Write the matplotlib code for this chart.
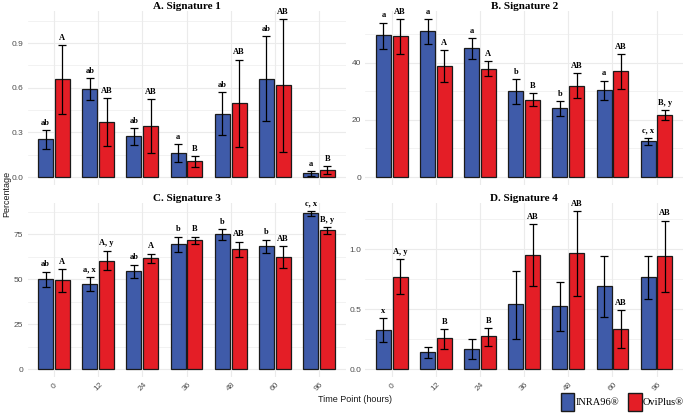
import matplotlib
matplotlib.use('Agg')
import matplotlib.pyplot as plt
from matplotlib.patches import Patch
import matplotlib.transforms as mtransforms
import numpy as np

time_points = ['0', '12', '24', '36', '48', '60', '96']
series_names = ['INRA96®', 'OviPlus®']
series_colors = ['#3F5BA9', '#E41E26']

titles = ['A. Signature 1', 'B. Signature 2', 'C. Signature 3', 'D. Signature 4']

# Signature 1
s1_inra = [0.255, 0.591, 0.278, 0.161, 0.425, 0.658, 0.025]
s1_inra_lo = [0.190, 0.517, 0.219, 0.100, 0.282, 0.374, 0.007]
s1_inra_hi = [0.318, 0.665, 0.329, 0.222, 0.571, 0.947, 0.038]
s1_ovi = [0.658, 0.369, 0.345, 0.105, 0.495, 0.616, 0.049]
s1_ovi_lo = [0.425, 0.206, 0.163, 0.069, 0.199, 0.168, 0.022]
s1_ovi_hi = [0.889, 0.533, 0.524, 0.141, 0.790, 1.063, 0.072]
s1_inra_lab = ['ab', 'ab', 'ab', 'a', 'ab', 'ab', 'a']
s1_ovi_lab = ['A', 'AB', 'AB', 'B', 'AB', 'AB', 'B']

# Signature 2
s2_inra = [49.6, 51.0, 45.0, 30.1, 24.1, 30.4, 12.5]
s2_inra_lo = [44.9, 46.7, 41.3, 25.7, 21.4, 27.1, 11.2]
s2_inra_hi = [54.0, 55.3, 48.7, 34.2, 26.7, 33.7, 13.8]
s2_ovi = [49.2, 38.9, 37.9, 27.1, 31.9, 37.1, 21.8]
s2_ovi_lo = [42.9, 33.4, 35.2, 25.0, 27.6, 30.9, 20.0]
s2_ovi_hi = [55.3, 44.4, 40.6, 29.4, 36.3, 42.9, 23.5]
s2_inra_lab = ['a', 'a', 'a', 'b', 'b', 'a', 'c, x']
s2_ovi_lab = ['AB', 'A', 'A', 'B', 'AB', 'AB', 'B, y']

# Signature 3
s3_inra = [49.9, 47.3, 54.6, 69.4, 75.0, 68.5, 86.7]
s3_inra_lo = [45.5, 43.6, 50.9, 65.0, 71.8, 64.8, 85.4]
s3_inra_hi = [54.2, 51.2, 58.1, 73.7, 78.1, 72.0, 88.0]
s3_ovi = [49.4, 60.3, 61.6, 71.6, 66.6, 62.2, 77.2]
s3_ovi_lo = [42.7, 54.9, 58.8, 69.4, 62.2, 56.1, 75.4]
s3_ovi_hi = [55.7, 65.9, 64.2, 73.7, 70.9, 68.3, 78.9]
s3_inra_lab = ['ab', 'a, x', 'ab', 'b', 'b', 'b', 'c, x']
s3_ovi_lab = ['A', 'A, y', 'A', 'B', 'AB', 'AB', 'B, y']

# Signature 4
s4_inra = [0.325, 0.142, 0.167, 0.542, 0.522, 0.689, 0.764]
s4_inra_lo = [0.228, 0.089, 0.083, 0.247, 0.314, 0.431, 0.581]
s4_inra_hi = [0.425, 0.186, 0.247, 0.822, 0.728, 0.939, 0.944]
s4_ovi = [0.769, 0.256, 0.272, 0.953, 0.964, 0.336, 0.942]
s4_ovi_lo = [0.622, 0.169, 0.194, 0.694, 0.606, 0.178, 0.642]
s4_ovi_hi = [0.917, 0.336, 0.344, 1.211, 1.319, 0.489, 1.239]
s4_inra_lab = ['x', '', '', '', '', '', '']
s4_ovi_lab = ['A, y', 'B', 'B', 'AB', 'AB', 'AB', 'AB']

y_ticks = [[0, 0.3, 0.6, 0.9], [0, 20, 40], [0, 25, 50, 75], [0, 0.5, 1.0]]
y_ticklabels = [['0.0', '0.3', '0.6', '0.9'], ['0', '20', '40'],
                ['0', '25', '50', '75'], ['0.0', '0.5', '1.0']]

panels = [
    (s1_inra, s1_inra_lo, s1_inra_hi, s1_ovi, s1_ovi_lo, s1_ovi_hi, s1_inra_lab, s1_ovi_lab),
    (s2_inra, s2_inra_lo, s2_inra_hi, s2_ovi, s2_ovi_lo, s2_ovi_hi, s2_inra_lab, s2_ovi_lab),
    (s3_inra, s3_inra_lo, s3_inra_hi, s3_ovi, s3_ovi_lo, s3_ovi_hi, s3_inra_lab, s3_ovi_lab),
    (s4_inra, s4_inra_lo, s4_inra_hi, s4_ovi, s4_ovi_lo, s4_ovi_hi, s4_inra_lab, s4_ovi_lab),
]

W, H = 686, 413
fig = plt.figure(figsize=(W / 100, H / 100), dpi=100)

# panel rectangles in pixels: left, right, top, bottom
rects = [(27.5, 345.5, 11, 185), (365.3, 683.0, 11, 185),
         (27.5, 345.5, 203, 377), (365.3, 683.0, 203, 377)]

sans = 'Liberation Sans'
serif = 'Liberation Serif'
tick_color = '#4D4D4D'
grid_color = '#EBEBEB'

x = np.arange(len(time_points))
offset = 0.19
bw = 0.34

for i, (rect, data) in enumerate(zip(rects, panels)):
    l, r, t, b = rect
    ax = fig.add_axes([l / W, 1 - b / H, (r - l) / W, (b - t) / H])
    m1, lo1, hi1, m2, lo2, hi2, lab1, lab2 = data
    for k, (m, lo, hi, labs) in enumerate([(m1, lo1, hi1, lab1), (m2, lo2, hi2, lab2)]):
        xs = x + (-offset if k == 0 else offset)
        m = np.array(m); lo = np.array(lo); hi = np.array(hi)
        ax.bar(xs, m, width=bw, color=series_colors[k], edgecolor='#1a1a1a',
               linewidth=0.9, zorder=2)
        ax.errorbar(xs, m, yerr=[m - lo, hi - m], fmt='none', ecolor='black',
                    elinewidth=0.9, capsize=3.0, capthick=0.9, zorder=3)
        for xi, yi, s in zip(xs, hi, labs):
            if s:
                ax.annotate(s, (xi, yi), xytext=(0, 2.3), textcoords='offset points',
                            ha='center', va='bottom', fontsize=6, fontweight='bold',
                            family=serif, annotation_clip=False, zorder=4)
    allhi = max(max(hi1), max(hi2))
    ax.set_ylim(-0.05 * allhi, 1.05 * allhi)
    ax.set_xlim(-0.6, len(time_points) - 0.4)
    ax.set_yticks(y_ticks[i])
    ax.set_yticklabels(y_ticklabels[i], fontsize=6, family=sans, color=tick_color)
    step = y_ticks[i][1] - y_ticks[i][0]
    minors = np.arange(step / 2, 1.05 * allhi, step)
    ax.set_yticks(minors, minor=True)
    ax.set_xticks(x)
    if i >= 2:
        ax.set_xticklabels(time_points, fontsize=6, family=sans, color=tick_color,
                           rotation=45, ha='center', va='center')
        shift = mtransforms.ScaledTranslation(-2 / 100, 0, fig.dpi_scale_trans)
        for lab in ax.get_xticklabels():
            lab.set_transform(lab.get_transform() + shift)
    else:
        ax.set_xticklabels([])
    ax.tick_params(axis='x', length=0, pad=7)
    ax.tick_params(axis='y', length=0, pad=3)
    ax.tick_params(axis='y', which='minor', length=0)
    ax.grid(True, which='major', color=grid_color, linewidth=0.8, zorder=0)
    ax.grid(True, which='minor', axis='y', color=grid_color, linewidth=0.45, zorder=0)
    ax.set_axisbelow(True)
    for sp in ax.spines.values():
        sp.set_visible(False)
    ax.set_title(titles[i], fontsize=8, fontweight='bold', family=serif, pad=1.5)

fig.text(6.5 / W, 1 - 194 / H, 'Percentage', rotation=90, ha='center', va='center',
         fontsize=6.5, family=sans, color='#1a1a1a')
fig.text(355 / W, 1 - 399 / H, 'Time Point (hours)', ha='center', va='center',
         fontsize=6.5, family=sans, color='#1a1a1a')

handles = [Patch(facecolor=c, edgecolor='#1a1a1a', linewidth=1.0) for c in series_colors]
fig.legend(handles, series_names, loc='center right', bbox_to_anchor=(684 / W, 1 - 402 / H),
           ncol=2, frameon=False, handlelength=1.3, handleheight=2.2, handletextpad=0.1,
           columnspacing=0.9, borderpad=0, borderaxespad=0,
           prop={'family': serif, 'size': 7.5})

fig.savefig('out.png', dpi=100)
